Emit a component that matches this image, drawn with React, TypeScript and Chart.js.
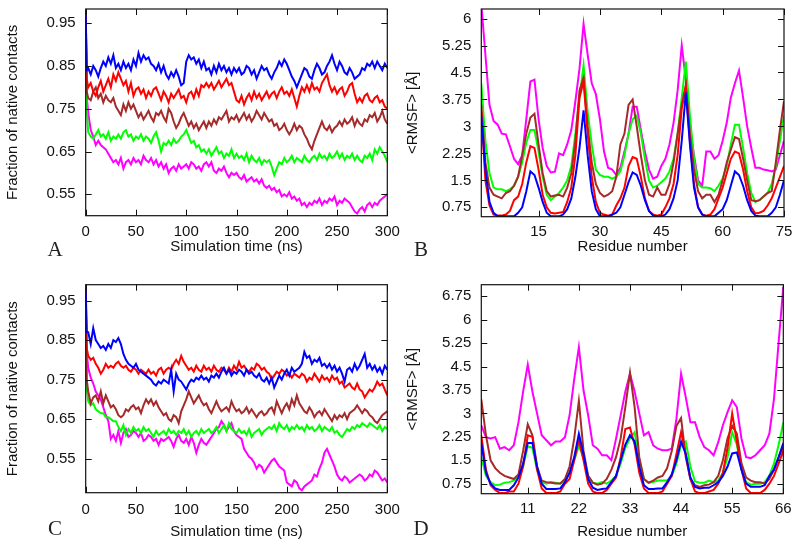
import React, { useEffect, useRef } from "react";
import { Chart, registerables } from "chart.js";

Chart.register(...registerables);

// ---------- data ----------
const SERIES_COLORS = ["#0000ff", "#ff0000", "#a52a2a", "#00ff00", "#ff00ff"];
const SERIES_NAMES = ["blue", "red", "brown", "green", "magenta"];

// sampling grid of the trajectories (ns): 0, 1, then every 2.5 ns
const TIME = [0, 1, ...Array.from({ length: 120 }, (_, i) => 2.5 * (i + 1))];

const A_BLUE = [0.98, 0.84,
  .845, .83, .85, .84, .825, .845, .86, .85, .87, .855, .875, .845,
  .855, .84, .86, .845, .855, .84, .865, .85, .88, .86, .875, .865,
  .87, .855, .85, .84, .855, .835, .85, .83, .82, .835, .825, .84,
  .825, .805, .81, .86, .875, .865, .87, .855, .865, .845, .86, .84,
  .845, .83, .85, .835, .855, .84, .85, .835, .845, .83, .845, .835,
  .845, .83, .835, .85, .845, .83, .84, .82, .835, .85, .84, .845,
  .83, .82, .835, .845, .86, .85, .865, .855, .84, .825, .815, .80,
  .815, .83, .845, .84, .825, .82, .84, .855, .845, .83, .835, .85,
  .86, .875, .855, .84, .86, .85, .835, .83, .845, .835, .82, .825,
  .83, .845, .84, .855, .85, .86, .845, .86, .85, .84, .855, .845];
const A_RED = [0.98, 0.82,
  .80, .81, .79, .78, .80, .815, .79, .805, .82, .80, .83, .815,
  .835, .82, .805, .815, .79, .81, .78, .795, .80, .785, .795, .775,
  .79, .78, .795, .80, .785, .77, .79, .78, .765, .785, .775, .785,
  .795, .775, .78, .765, .785, .79, .775, .795, .78, .805, .80, .81,
  .80, .81, .795, .805, .815, .80, .81, .82, .805, .81, .79, .77,
  .765, .78, .76, .775, .785, .77, .79, .775, .785, .77, .78, .79,
  .775, .785, .79, .775, .79, .80, .785, .79, .78, .795, .775, .755,
  .78, .80, .79, .805, .79, .81, .795, .80, .79, .81, .82, .83,
  .805, .79, .80, .785, .795, .80, .78, .79, .805, .81, .785, .765,
  .775, .765, .78, .785, .77, .765, .775, .78, .765, .77, .755, .75];
const A_BROWN = [0.98, 0.79,
  .775, .77, .79, .80, .775, .785, .765, .78, .77, .765, .775, .755,
  .745, .735, .76, .745, .765, .75, .76, .745, .73, .74, .725, .735,
  .745, .73, .72, .74, .735, .745, .73, .72, .75, .74, .72, .705,
  .715, .73, .74, .725, .71, .72, .705, .715, .70, .71, .72, .705,
  .72, .71, .725, .715, .73, .725, .735, .745, .72, .73, .725, .735,
  .72, .73, .74, .725, .735, .72, .73, .745, .735, .725, .74, .73,
  .72, .725, .71, .715, .70, .705, .715, .70, .69, .70, .715, .70,
  .71, .705, .69, .68, .665, .655, .675, .69, .705, .72, .705, .70,
  .71, .695, .705, .71, .72, .71, .725, .715, .72, .73, .71, .725,
  .715, .71, .725, .72, .735, .73, .74, .72, .73, .745, .725, .715];
const A_GREEN = [0.98, 0.75,
  .695, .685, .68, .69, .70, .685, .69, .68, .695, .675, .685, .68,
  .69, .68, .695, .70, .685, .69, .675, .685, .68, .69, .675, .685,
  .68, .67, .685, .695, .675, .65, .67, .665, .675, .665, .68, .67,
  .675, .685, .69, .70, .685, .67, .675, .66, .665, .65, .655, .645,
  .655, .64, .65, .66, .645, .65, .635, .645, .64, .655, .635, .645,
  .635, .64, .63, .645, .625, .64, .63, .625, .635, .62, .63, .625,
  .63, .615, .595, .61, .625, .62, .635, .625, .63, .64, .625, .635,
  .63, .625, .64, .63, .625, .635, .64, .63, .645, .635, .64, .63,
  .645, .635, .64, .65, .635, .645, .63, .64, .635, .645, .63, .64,
  .63, .625, .64, .635, .645, .63, .655, .645, .66, .65, .64, .625];
const A_MAGENTA = [0.98, 0.78,
  .74, .70, .685, .665, .675, .665, .66, .655, .645, .635, .625, .63,
  .62, .635, .61, .625, .63, .62, .635, .625, .63, .62, .64, .63,
  .625, .635, .62, .63, .615, .625, .61, .62, .60, .61, .615, .605,
  .62, .61, .615, .62, .61, .625, .62, .61, .615, .605, .62, .625,
  .615, .625, .605, .60, .61, .605, .615, .60, .59, .60, .595, .60,
  .59, .585, .595, .58, .585, .59, .58, .585, .575, .585, .57, .565,
  .57, .56, .565, .555, .56, .545, .55, .545, .555, .54, .545, .535,
  .54, .525, .53, .52, .53, .525, .535, .53, .54, .525, .535, .53,
  .54, .535, .545, .525, .535, .53, .54, .535, .53, .52, .51, .505,
  .515, .52, .51, .525, .53, .52, .53, .525, .535, .54, .545, .55];

const C_BLUE = [0.99, 0.87,
  .87, .84, .88, .85, .84, .83, .835, .825, .84, .83, .85, .845,
  .855, .84, .815, .80, .79, .785, .78, .79, .775, .77, .765, .76,
  .755, .75, .74, .735, .745, .74, .75, .745, .74, .775, .72, .765,
  .75, .745, .735, .725, .74, .75, .745, .755, .75, .76, .75, .755,
  .745, .76, .755, .765, .755, .77, .78, .765, .775, .76, .77, .765,
  .775, .77, .76, .775, .765, .77, .76, .755, .765, .75, .745, .755,
  .74, .755, .73, .745, .76, .75, .765, .775, .76, .78, .77, .775,
  .78, .79, .82, .805, .81, .79, .80, .795, .805, .785, .79, .78,
  .79, .775, .785, .77, .78, .765, .745, .775, .78, .77, .79, .775,
  .785, .80, .815, .78, .79, .775, .785, .77, .78, .765, .785, .775];
const C_RED = [0.98, 0.83,
  .81, .80, .805, .79, .78, .765, .775, .79, .78, .785, .78, .79,
  .795, .785, .78, .785, .775, .77, .78, .775, .765, .775, .77, .765,
  .775, .765, .77, .76, .775, .78, .765, .775, .78, .775, .79, .80,
  .79, .81, .795, .785, .775, .78, .77, .785, .775, .77, .785, .775,
  .78, .77, .785, .775, .77, .78, .775, .765, .78, .77, .785, .775,
  .795, .78, .785, .775, .77, .78, .775, .79, .785, .775, .78, .77,
  .765, .75, .76, .77, .765, .775, .77, .76, .765, .755, .765, .76,
  .755, .765, .76, .745, .755, .75, .765, .755, .745, .76, .75, .755,
  .745, .76, .75, .755, .74, .745, .73, .735, .74, .73, .725, .74,
  .725, .72, .705, .715, .725, .72, .73, .745, .735, .74, .725, .71];
const C_BROWN = [0.98, 0.75,
  .72, .69, .705, .71, .695, .72, .69, .71, .695, .68, .685, .675,
  .66, .655, .66, .675, .67, .68, .685, .675, .68, .665, .685, .70,
  .69, .70, .685, .695, .68, .67, .66, .665, .65, .645, .66, .655,
  .64, .67, .685, .70, .72, .705, .69, .70, .71, .695, .685, .69,
  .675, .665, .68, .695, .68, .67, .675, .68, .67, .695, .68, .67,
  .675, .665, .67, .68, .665, .675, .665, .655, .665, .67, .66, .665,
  .675, .68, .665, .695, .68, .665, .68, .69, .675, .70, .685, .71,
  .69, .68, .67, .665, .68, .67, .655, .665, .67, .66, .675, .665,
  .655, .645, .66, .65, .66, .655, .665, .65, .665, .67, .675, .685,
  .675, .665, .675, .67, .66, .655, .645, .64, .65, .66, .665, .67];
const C_GREEN = [0.98, 0.73,
  .695, .685, .69, .675, .67, .665, .665, .655, .655, .65, .645, .645,
  .63, .62, .635, .61, .625, .615, .63, .62, .625, .615, .63, .62,
  .625, .615, .605, .62, .61, .615, .62, .61, .625, .615, .62, .61,
  .62, .615, .625, .61, .62, .605, .615, .62, .61, .625, .615, .62,
  .625, .615, .62, .63, .615, .625, .635, .62, .64, .625, .62, .615,
  .625, .615, .62, .61, .625, .605, .615, .62, .625, .61, .62, .625,
  .63, .625, .635, .62, .64, .63, .625, .635, .62, .63, .625, .635,
  .625, .63, .62, .635, .625, .63, .62, .625, .635, .62, .63, .625,
  .62, .63, .615, .62, .61, .605, .615, .625, .62, .63, .625, .635,
  .63, .64, .635, .63, .64, .635, .63, .625, .635, .62, .63, .625];
const C_MAGENTA = [0.98, 0.82,
  .78, .755, .74, .72, .71, .70, .68, .66, .645, .60, .61, .595,
  .62, .59, .615, .625, .605, .61, .62, .615, .605, .615, .595, .60,
  .61, .605, .595, .60, .585, .60, .595, .60, .605, .595, .58, .60,
  .61, .595, .59, .60, .585, .605, .59, .565, .585, .60, .59, .585,
  .595, .605, .615, .625, .63, .645, .635, .62, .63, .64, .62, .61,
  .605, .60, .575, .565, .555, .55, .54, .525, .535, .53, .515, .525,
  .535, .545, .55, .54, .53, .525, .52, .49, .485, .48, .495, .49,
  .475, .47, .48, .485, .49, .495, .51, .505, .525, .54, .565, .575,
  .56, .545, .53, .51, .50, .495, .505, .50, .49, .495, .50, .505,
  .51, .505, .495, .50, .51, .505, .52, .515, .505, .495, .50, .49];

const RESIDUES_B = Array.from({ length: 75 }, (_, i) => i + 1);
const B_BLUE = [
  3.3, 1.8, 0.9, 0.6, 0.5, 0.5, 0.5, 0.5, 0.5, 0.6, 0.75, 1.2, 1.75, 1.65, 1.3,
  0.9, 0.6, 0.5, 0.5, 0.5, 0.55, 0.7, 1.0, 1.6, 2.4, 3.45, 2.2, 1.2, 0.7, 0.5,
  0.5, 0.5, 0.55, 0.6, 0.75, 1.1, 1.45, 1.72, 1.65, 1.35, 0.95, 0.65, 0.52, 0.5, 0.5,
  0.55, 0.7, 1.0, 1.5, 2.6, 3.95, 2.5, 1.3, 0.75, 0.55, 0.5, 0.5, 0.5, 0.6, 0.7,
  0.95, 1.35, 1.75, 1.65, 1.35, 0.95, 0.65, 0.52, 0.5, 0.5, 0.5, 0.6, 0.75, 1.1, 1.5];
const B_RED = [
  3.4, 1.5, 0.8, 0.55, 0.52, 0.52, 0.55, 0.65, 0.95, 1.05, 1.4, 2.0, 2.45, 2.4, 1.8,
  1.1, 0.75, 0.6, 0.58, 0.6, 0.62, 0.9, 1.3, 2.2, 3.8, 4.25, 2.8, 1.6, 0.9, 0.6,
  0.55, 0.52, 0.55, 0.8, 1.0, 1.3, 1.9, 2.15, 2.1, 1.6, 1.0, 0.65, 0.55, 0.52, 0.55,
  0.75, 1.0, 1.4, 2.2, 3.5, 4.1, 2.6, 1.4, 0.75, 0.55, 0.52, 0.55, 0.7, 1.0, 1.3,
  1.7, 2.1, 2.3, 2.25, 1.8, 1.2, 0.75, 0.58, 0.6, 0.65, 0.8, 1.0, 1.3, 1.6, 1.9];
const B_BROWN = [
  3.6, 2.0, 1.3, 1.1, 1.05, 1.0, 1.15, 1.2, 1.35, 1.6, 2.2, 2.8, 3.25, 3.35, 2.5,
  1.7, 1.2, 1.05, 1.08, 1.1, 1.05, 1.3, 1.7, 2.6, 4.0, 4.35, 3.0, 2.0, 1.4, 1.15,
  1.05, 1.1, 1.2, 1.6, 2.5, 2.8, 3.6, 3.75, 3.0, 2.2, 1.5, 1.1, 1.05, 1.3, 1.1,
  1.1, 1.4, 2.0, 2.8, 3.6, 4.15, 2.8, 1.8, 1.2, 1.0, 1.1, 1.1, 0.9, 1.1, 1.5,
  2.0, 2.35, 2.7, 2.65, 2.1, 1.5, 0.95, 0.92, 0.95, 1.05, 1.15, 1.2, 2.0, 2.9, 3.7];
const B_GREEN = [
  4.2, 2.6, 1.7, 1.3, 1.25, 1.25, 1.2, 1.25, 1.35, 1.6, 2.0, 2.55, 2.9, 2.9, 2.3,
  1.6, 1.1, 0.95, 1.05, 1.15, 1.3, 1.5, 1.9, 2.8, 3.8, 4.7, 3.4, 2.5, 1.8, 1.65,
  1.6, 1.6, 1.55, 1.6, 1.75, 2.2, 2.8, 3.2, 3.3, 2.8, 2.1, 1.5, 1.3, 1.35, 1.45,
  1.55, 1.75, 2.1, 2.8, 3.8, 4.8, 3.3, 2.1, 1.4, 1.3, 1.3, 1.28, 1.2, 1.35, 1.55,
  1.9, 2.5, 3.05, 3.05, 2.4, 1.7, 1.15, 0.9, 0.95, 1.05, 1.15, 1.4, 1.9, 2.6, 3.3];
const B_MAGENTA = [
  6.4, 5.0, 3.6, 3.15, 3.05, 2.8, 2.78, 2.45, 2.1, 1.95, 2.2, 3.2, 4.25, 4.3, 3.2,
  2.4, 1.9, 1.72, 1.74, 2.25, 2.2, 2.5, 2.9, 3.7, 4.6, 5.85, 5.0, 4.2, 3.9, 3.2,
  2.3, 1.85, 1.8, 1.65, 1.85, 2.3, 2.8, 3.55, 3.55, 2.9, 2.3, 1.8, 1.55, 1.6, 1.9,
  2.1, 2.5, 3.1, 4.0, 5.25, 4.3, 3.0, 2.2, 1.5, 1.35, 2.3, 2.3, 2.1, 2.2, 2.6,
  3.1, 3.8, 4.2, 4.55, 3.8, 3.0, 2.4, 1.85, 1.85, 1.8, 1.78, 1.75, 1.8, 2.2, 2.6];

const RESIDUES_D = Array.from({ length: 66 }, (_, i) => i + 1);
const D_BLUE = [
  2.05, 1.1, 0.75, 0.6, 0.55, 0.55, 0.55, 0.7, 0.95, 1.4, 2.05,
  2.05, 1.3, 0.75, 0.58, 0.58, 0.58, 0.6, 0.8, 1.1, 1.6, 2.35,
  1.7, 0.9, 0.62, 0.55, 0.58, 0.6, 0.8, 1.0, 1.5, 2.0, 2.3,
  2.1, 1.3, 0.7, 0.58, 0.58, 0.6, 0.6, 0.8, 1.05, 1.5, 2.1,
  1.7, 0.95, 0.65, 0.6, 0.62, 0.62, 0.7, 0.8, 1.0, 1.3, 1.72,
  1.75, 1.2, 0.75, 0.65, 0.65, 0.65, 0.7, 1.0, 1.2, 1.6, 2.05];
const D_RED = [
  2.3, 1.2, 0.7, 0.55, 0.45, 0.45, 0.5, 0.5, 0.75, 1.3, 2.3,
  2.25, 1.2, 0.6, 0.45, 0.45, 0.45, 0.5, 0.75, 0.9, 1.5, 2.15,
  1.5, 0.75, 0.5, 0.45, 0.45, 0.55, 0.75, 0.95, 1.6, 2.5, 2.55,
  2.0, 1.1, 0.6, 0.45, 0.45, 0.45, 0.5, 0.75, 1.0, 1.7, 2.4,
  1.7, 0.9, 0.5, 0.45, 0.45, 0.5, 0.55, 0.75, 1.1, 1.9, 3.0,
  2.1, 1.2, 0.6, 0.45, 0.45, 0.45, 0.55, 0.75, 1.0, 1.4, 1.8];
const D_BROWN = [
  3.45, 2.3, 1.5, 1.25, 1.1, 1.0, 0.95, 0.9, 1.05, 1.8, 2.65,
  2.3, 1.3, 0.85, 0.8, 0.78, 0.76, 0.76, 0.9, 1.3, 2.2, 3.4,
  1.8, 1.0, 0.78, 0.72, 0.75, 0.9, 1.2, 1.6, 2.2, 3.2, 4.3,
  3.2, 1.6, 0.9, 0.78, 0.85, 0.95, 1.0, 1.25, 1.8, 2.6, 2.85,
  1.6, 0.9, 0.7, 0.65, 0.7, 0.72, 0.8, 1.0, 1.5, 2.2, 2.6,
  2.35, 1.4, 0.95, 0.85, 0.8, 0.8, 0.75, 0.9, 1.2, 1.6, 1.9];
const D_GREEN = [
  1.6, 1.0, 0.8, 0.7, 0.72, 0.78, 0.8, 0.85, 1.0, 1.3, 1.95,
  1.9, 1.2, 0.8, 0.75, 0.8, 0.78, 0.75, 0.85, 1.1, 1.5, 1.95,
  1.6, 1.0, 0.78, 0.75, 0.8, 0.75, 0.85, 1.0, 1.4, 1.9, 2.2,
  2.4, 1.5, 0.9, 0.78, 0.8, 0.85, 0.85, 0.85, 1.0, 1.4, 2.0,
  2.1, 1.3, 0.82, 0.78, 0.78, 0.85, 0.8, 0.85, 1.1, 1.6, 2.4,
  2.0, 1.2, 0.8, 0.72, 0.75, 0.75, 0.8, 1.0, 1.4, 2.0, 2.7];
const D_MAGENTA = [
  2.62, 2.24, 2.2, 2.24, 1.87, 1.92, 1.82, 1.98, 2.72, 3.7, 4.56,
  3.7, 3.0, 2.3, 2.14, 1.98, 2.1, 2.1, 2.24, 2.94, 4.1, 5.12,
  3.74, 2.94, 1.98, 1.87, 1.66, 1.66, 1.5, 2.19, 2.94, 3.7, 4.27,
  3.7, 3.0, 2.3, 2.4, 1.98, 1.87, 1.82, 1.82, 1.87, 2.83, 4.27,
  3.52, 2.72, 2.72, 2.24, 1.92, 1.82, 1.66, 2.08, 2.62, 3.04, 3.42,
  3.2, 2.19, 1.6, 1.57, 1.66, 1.82, 1.98, 2.35, 3.47, 5.28, 7.05];

const TIME_TICKS = [0, 50, 100, 150, 200, 250, 300];
const CONTACT_TICKS = [0.55, 0.65, 0.75, 0.85, 0.95];
const B_X_TICKS = [15, 30, 45, 60, 75];
const B_Y_TICKS = [0.75, 1.5, 2.25, 3, 3.75, 4.5, 5.25, 6];
const D_X_TICKS = [11, 22, 33, 44, 55, 66];
const D_Y_TICKS = [0.75, 1.5, 2.25, 3, 3.75, 4.5, 5.25, 6, 6.75];

const TIME_TITLE = "Simulation time (ns)";
const RESIDUE_TITLE = "Residue number";
const CONTACT_TITLE = "Fraction of native contacts";
const RMSF_TITLE = "<RMSF> [Å]";

// ---------- layout ----------
const FONT = "'Liberation Sans', Arial, Helvetica, sans-serif";

type Panel = {
  id: string;
  letter: string;
  letterPos: [number, number];
  canvas: { left: number; top: number; width: number; height: number };
  area: { l: number; t: number; r: number; b: number };
  xs: number[];
  series: number[][];
  xMin: number; xMax: number; xTicks: number[];
  yMin: number; yMax: number; yTicks: number[];
  xTitle: string; yTitle: string;
  xLabelY: number; xTitleY: number; yTitleX: number;
};

const PANELS: Panel[] = [
  {
    id: "A", letter: "A", letterPos: [55, 248.5],
    canvas: { left: 0, top: -10, width: 410, height: 272 },
    area: { l: 85.7, t: 7.7, r: 387.3, b: 215.7 },
    xs: TIME, series: [A_BLUE, A_RED, A_BROWN, A_GREEN, A_MAGENTA],
    xMin: 0, xMax: 300, xTicks: TIME_TICKS,
    yMin: 0.5, yMax: 0.983, yTicks: CONTACT_TICKS,
    xTitle: TIME_TITLE, yTitle: CONTACT_TITLE,
    xLabelY: 232.3, xTitleY: 246.7, yTitleX: 13.3,
  },
  {
    id: "B", letter: "B", letterPos: [421, 248.5],
    canvas: { left: 395, top: -10, width: 405, height: 272 },
    area: { l: 481.3, t: 7.7, r: 784, b: 216.7 },
    xs: RESIDUES_B, series: [B_BLUE, B_RED, B_BROWN, B_GREEN, B_MAGENTA],
    xMin: 1, xMax: 75, xTicks: B_X_TICKS,
    yMin: 0.49, yMax: 6.265, yTicks: B_Y_TICKS,
    xTitle: RESIDUE_TITLE, yTitle: RMSF_TITLE,
    xLabelY: 232, xTitleY: 246.7, yTitleX: 413.3,
  },
  {
    id: "C", letter: "C", letterPos: [55, 528],
    canvas: { left: 0, top: 262, width: 410, height: 286 },
    area: { l: 85.7, t: 284.7, r: 387.3, b: 492.7 },
    xs: TIME, series: [C_BLUE, C_RED, C_BROWN, C_GREEN, C_MAGENTA],
    xMin: 0, xMax: 300, xTicks: TIME_TICKS,
    yMin: 0.464, yMax: 0.99, yTicks: CONTACT_TICKS,
    xTitle: TIME_TITLE, yTitle: CONTACT_TITLE,
    xLabelY: 510, xTitleY: 532, yTitleX: 13.3,
  },
  {
    id: "D", letter: "D", letterPos: [421, 528],
    canvas: { left: 395, top: 262, width: 405, height: 286 },
    area: { l: 481.3, t: 284.7, r: 783.3, b: 493.7 },
    xs: RESIDUES_D, series: [D_BLUE, D_RED, D_BROWN, D_GREEN, D_MAGENTA],
    xMin: 1, xMax: 66, xTicks: D_X_TICKS,
    yMin: 0.43, yMax: 7.12, yTicks: D_Y_TICKS,
    xTitle: RESIDUE_TITLE, yTitle: RMSF_TITLE,
    xLabelY: 509.3, xTitleY: 532, yTitleX: 413.3,
  },
];

const frameTicks = {
  id: "frameTicks",
  afterDatasetsDraw(chart: any) {
    const { ctx, chartArea, scales } = chart;
    const { left, right, top, bottom } = chartArea;
    const L = 6;
    ctx.save();
    ctx.strokeStyle = "#111";
    ctx.lineWidth = 1;
    ctx.beginPath();
    scales.x.ticks.forEach((t: any) => {
      const px = Math.round(scales.x.getPixelForValue(t.value)) + 0.5;
      ctx.moveTo(px, bottom); ctx.lineTo(px, bottom - L);
      ctx.moveTo(px, top); ctx.lineTo(px, top + L);
    });
    scales.y.ticks.forEach((t: any) => {
      const py = Math.round(scales.y.getPixelForValue(t.value)) + 0.5;
      ctx.moveTo(left, py); ctx.lineTo(left + L, py);
      ctx.moveTo(right, py); ctx.lineTo(right - L, py);
    });
    ctx.stroke();
    ctx.lineWidth = 1.2;
    ctx.strokeRect(left, top, right - left, bottom - top);
    ctx.restore();
  },
};

function PanelChart({ p }: { p: Panel }) {
  const ref = useRef<HTMLCanvasElement>(null);
  useEffect(() => {
    const c = p.canvas;
    const yAxisW = p.area.l - c.left;
    const xAxisH = c.top + c.height - p.area.b;
    const lh = 18; // 15px * 1.2
    const chart = new Chart(ref.current as HTMLCanvasElement, {
      type: "line",
      data: {
        datasets: p.series.map((s, k) => ({
          label: SERIES_NAMES[k],
          data: p.xs.map((x, i) => ({ x, y: s[i] })),
          borderColor: SERIES_COLORS[k],
          backgroundColor: SERIES_COLORS[k],
          borderWidth: 2,
          pointRadius: 0,
          tension: 0,
          fill: false,
        })),
      },
      options: {
        responsive: false,
        animation: false,
        devicePixelRatio: 1,
        layout: {
          padding: {
            left: 0,
            top: p.area.t - c.top,
            right: c.left + c.width - p.area.r,
            bottom: 0,
          },
        },
        plugins: { legend: { display: false }, tooltip: { enabled: false } },
        scales: {
          x: {
            type: "linear",
            min: p.xMin,
            max: p.xMax,
            afterBuildTicks: (axis: any) => {
              axis.ticks = p.xTicks.map((v) => ({ value: v }));
            },
            afterFit: (axis: any) => {
              axis.height = xAxisH;
            },
            grid: { display: false, drawTicks: false },
            border: { display: false },
            ticks: {
              color: "#111",
              font: { family: FONT, size: 15 },
              padding: p.xLabelY - p.area.b - lh / 2,
              maxRotation: 0,
              autoSkip: false,
              callback: (v: any) => String(v),
            },
            title: {
              display: true,
              text: p.xTitle,
              color: "#111",
              font: { family: FONT, size: 15 },
              padding: { top: 0, bottom: c.top + c.height - p.xTitleY - lh / 2 },
            },
          },
          y: {
            type: "linear",
            min: p.yMin,
            max: p.yMax,
            afterBuildTicks: (axis: any) => {
              axis.ticks = p.yTicks.map((v) => ({ value: v }));
            },
            afterFit: (axis: any) => {
              axis.width = yAxisW;
            },
            grid: { display: false, drawTicks: false },
            border: { display: false },
            ticks: {
              color: "#111",
              font: { family: FONT, size: 15 },
              padding: 10,
              autoSkip: false,
              callback: (v: any) => String(v),
            },
            title: {
              display: true,
              text: p.yTitle,
              color: "#111",
              font: { family: FONT, size: 15 },
              padding: { top: p.yTitleX - c.left - lh / 2, bottom: 0 },
            },
          },
        },
      },
      plugins: [frameTicks],
    } as any);
    return () => chart.destroy();
  }, [p]);
  return (
    <canvas
      ref={ref}
      width={p.canvas.width}
      height={p.canvas.height}
      style={{
        position: "absolute",
        left: p.canvas.left,
        top: p.canvas.top,
        width: p.canvas.width,
        height: p.canvas.height,
      }}
    />
  );
}

export default function App() {
  return (
    <div
      style={{
        position: "absolute",
        left: 0,
        top: 0,
        width: 800,
        height: 548,
        overflow: "hidden",
        background: "#fff",
      }}
    >
      {PANELS.map((p) => (
        <PanelChart key={p.id} p={p} />
      ))}
      {PANELS.map((p) => (
        <span
          key={"L" + p.id}
          style={{
            position: "absolute",
            left: p.letterPos[0],
            top: p.letterPos[1],
            transform: "translate(-50%, -50%)",
            fontFamily: "'Liberation Serif', 'DejaVu Serif', serif",
            fontSize: 21,
            lineHeight: 1,
            color: "#222",
          }}
        >
          {p.letter}
        </span>
      ))}
    </div>
  );
}
